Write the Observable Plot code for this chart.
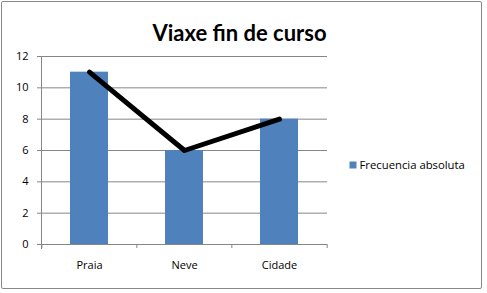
<!DOCTYPE html>
<html><head><meta charset="utf-8">
<script src="https://cdn.jsdelivr.net/npm/d3@7"></script>
<script src="https://cdn.jsdelivr.net/npm/@observablehq/plot@0.6"></script>
<style>
body{margin:0;background:#fff}
#wrap{position:relative;width:487px;height:293px;overflow:hidden}
#border{position:absolute;left:1px;top:1px;width:479px;height:286px;border:1px solid #888;border-radius:2px;pointer-events:none}
#wrap svg{position:absolute;left:0;top:0}
</style></head><body><div id="wrap"><div id="border"></div></div>
<script>
const categories = ["Praia", "Neve", "Cidade"];
const values = [11, 6, 8];
const yTicks = [0, 2, 4, 6, 8, 10, 12];
const title = "Viaxe fin de curso";
const seriesName = "Frecuencia absoluta";

const data = categories.map((c, i) => ({cat: c, value: values[i]}));
const W = 487, H = 293, ML = 41, MR = 160, MT = 56, MB = 49;
const step = (W - ML - MR) / categories.length;
const grey = "#868686";

const plot = Plot.plot({
  width: W, height: H, marginLeft: ML, marginRight: MR, marginTop: MT, marginBottom: MB,
  style: {fontFamily: "'Open Sans', sans-serif", fontSize: "11px", color: "#000", background: "transparent", overflow: "visible"},
  x: {domain: categories, paddingInner: 0.6, paddingOuter: 0.3, label: null},
  y: {domain: [0, 12], label: null},
  marks: [
    Plot.gridY(yTicks, {stroke: grey, strokeOpacity: 1}),
    Plot.barY(data, {x: "cat", y: "value", fill: "#4f81bd"}),
    Plot.axisY(yTicks, {tickSize: 4, tickPadding: 9, stroke: grey, strokeOpacity: 1, label: null, fill: "#000"}),
    Plot.frame({anchor: "left", stroke: grey, insetBottom: -4}),
    Plot.ruleY([0], {stroke: grey}),
    Plot.axisX(categories, {tickSize: 0, tickPadding: 17, label: null, fill: "#000"}),
    Plot.ruleX(categories, {x: d => d, y1: 0, y2: 0, insetBottom: -4, dx: -step / 2, stroke: grey}),
    Plot.ruleX(categories.slice(-1), {x: d => d, y1: 0, y2: 0, insetBottom: -4, dx: step / 2, stroke: grey}),
    Plot.line(data, {x: "cat", y: "value", stroke: "#000", strokeWidth: 5, strokeLinecap: "round", strokeLinejoin: "round"}),
    Plot.text([title], {frameAnchor: "top", dx: 55, dy: -31, fontFamily: "Lato, sans-serif", fontWeight: "bold", fontSize: 22, fill: "#000"}),
    Plot.dot([seriesName], {frameAnchor: "right", dx: 25.5, dy: 14.5, symbol: "square", r: 3.95, fill: "#4f81bd", stroke: null}),
    Plot.text([seriesName], {frameAnchor: "right", dx: 32, dy: 15, textAnchor: "start", fontSize: 11.3, fill: "#000"})
  ]
});
document.getElementById("wrap").appendChild(plot);
</script>
</body></html>
